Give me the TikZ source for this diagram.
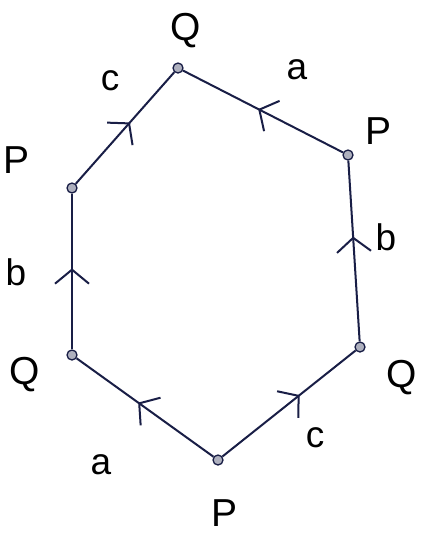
\documentclass[tikz,border=0pt]{standalone}
\usepackage{fontspec}
\setmainfont{Liberation Sans}
\usetikzlibrary{decorations.markings,arrows.meta}
\tikzset{
  vert/.style={circle,draw=ink,fill=ink!35,line width=1.3pt,minimum size=10pt,inner sep=0pt},
  lbl/.style={text=black,font=\fontsize{37}{39}\selectfont,inner sep=0pt},
  lbls/.style={text=black,font=\fontsize{39}{41}\selectfont,inner sep=0pt},
  edge/.style={draw=ink,line width=2pt,postaction={decorate},
    decoration={markings,mark=at position #1 with {\arrow[ink,line width=2pt]{Straight Barb[length=14pt,width=34pt]}}}},
  edge/.default=0.5
}
\definecolor{ink}{RGB}{25,30,70}
\begin{document}
\begin{tikzpicture}[x=1pt,y=-1pt]
\useasboundingbox[fill=white] (0,0) rectangle (429,550);
\node[vert] (q1) at (178,68) {};
\node[vert] (p1) at (348,155) {};
\node[vert] (q2) at (360,347) {};
\node[vert] (p2) at (218,460) {};
\node[vert] (q3) at (72,355) {};
\node[vert] (p3) at (72,188) {};
\draw[edge=0.55] (p3) -- (q1);
\draw[edge=0.53] (p1) -- (q1);
\draw[edge=0.58] (q2) -- (p1);
\draw[edge=0.52] (q3) -- (p3);
\draw[edge=0.55] (p2) -- (q3);
\draw[edge=0.58] (p2) -- (q2);
\node[lbls] (tq1) at (186,31) {Q};
\node[lbl] (ta1) at (297,70) {a};
\node[lbls] (tp1) at (379,131) {P};
\node[lbl] (tb1) at (386,237) {b};
\node[lbls] (tq2) at (402,378) {Q};
\node[lbl] (tc2) at (315,438) {c};
\node[lbls] (tp2) at (225,513) {P};
\node[lbl] (ta2) at (101,465) {a};
\node[lbls] (tq3) at (25,375) {Q};
\node[lbl] (tb3) at (16,272) {b};
\node[lbls] (tp3) at (17,160) {P};
\node[lbl] (tc3) at (110,81) {c};
\end{tikzpicture}
\end{document}
